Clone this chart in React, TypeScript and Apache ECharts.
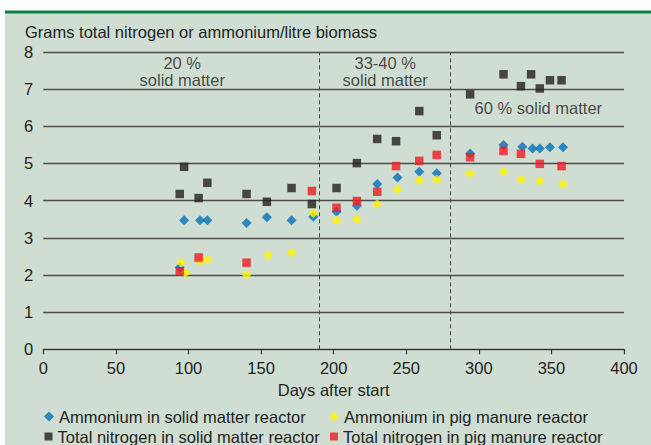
import React, { useEffect, useRef } from "react";
import * as echarts from "echarts";

const yTitle = "Grams total nitrogen or ammonium/litre biomass";
const xTitle = "Days after start";
const seriesNames = [
  "Ammonium in solid matter reactor",
  "Ammonium in pig manure reactor",
  "Total nitrogen in solid matter reactor",
  "Total nitrogen in pig manure reactor",
];

const ammSolidDays = [94, 97, 108, 113, 140, 154, 171, 186, 202, 216, 230, 244, 259, 271, 294, 317, 330, 337, 342, 349, 358];
const ammSolidVals = [2.2, 3.47, 3.47, 3.47, 3.4, 3.55, 3.47, 3.57, 3.7, 3.86, 4.45, 4.62, 4.78, 4.74, 5.27, 5.5, 5.45, 5.4, 5.4, 5.44, 5.44];

const ammPigDays = [95, 98, 108, 113, 140, 155, 171, 186, 202, 216, 230, 244, 259, 271, 294, 317, 329, 342, 358];
const ammPigVals = [2.33, 2.06, 2.37, 2.41, 2.01, 2.53, 2.6, 3.67, 3.47, 3.5, 3.9, 4.3, 4.54, 4.57, 4.73, 4.77, 4.57, 4.53, 4.45];

const totSolidDays = [94, 97, 107, 113, 140, 154, 171, 185, 202, 216, 230, 243, 259, 271, 294, 317, 329, 336, 342, 349, 357];
const totSolidVals = [4.18, 4.91, 4.07, 4.48, 4.18, 3.97, 4.34, 3.91, 4.34, 5.01, 5.66, 5.6, 6.41, 5.76, 6.86, 7.4, 7.08, 7.4, 7.02, 7.24, 7.24];

const totPigDays = [94, 107, 140, 185, 202, 216, 230, 243, 259, 271, 294, 317, 329, 342, 357];
const totPigVals = [2.1, 2.47, 2.33, 4.26, 3.81, 3.99, 4.24, 4.93, 5.07, 5.23, 5.17, 5.34, 5.26, 4.99, 4.93];

const phaseBoundaries = [190, 280];
const phaseLabels = ["20 %\nsolid matter", "33-40 %\nsolid matter", "60 % solid matter"];
const phaseLabelPos = [
  [95.7, 7.47],
  [235.5, 7.47],
  [341, 6.5],
];

const FONT = "'Liberation Sans', Arial, Helvetica, sans-serif";
const FS = 16.5;
const TXT = "#231f20";
const colors = ["#0072bc", "#fff200", "#231f20", "#ed1c24"];

const zip = (d: number[], v: number[]) => d.map((x, i) => [x, v[i]]);

export default function App() {
  const ref = useRef<HTMLDivElement>(null);
  useEffect(() => {
    document.body.style.margin = "0";
    const chart = echarts.init(ref.current!, null, { renderer: "svg" });
    const legendItem = (name: string, icon: string, left: number, top: number, size: number) => ({
      data: [{ name, icon }],
      left,
      top,
      itemWidth: size,
      itemHeight: size,
      padding: 0,
      selectedMode: false,
      textStyle: { fontFamily: FONT, fontSize: FS, color: TXT, lineHeight: 16, padding: [0, 0, 0, 0] },
    });
    chart.setOption({
      animation: false,
      backgroundColor: "#ffffff",
      textStyle: { fontFamily: FONT },
      graphic: [
        { type: "rect", z: -100, shape: { x: 5, y: 12, width: 646, height: 433 }, style: { fill: "#cfddd3" } },
        { type: "rect", z: -99, shape: { x: 5, y: 10.5, width: 646, height: 3 }, style: { fill: "#0b8040" } },
      ],
      title: {
        text: yTitle,
        left: 25,
        top: 24,
        padding: 0,
        textStyle: { fontFamily: FONT, fontSize: FS, fontWeight: "normal", color: TXT, lineHeight: 16 },
      },
      grid: { left: 43.3, right: 27, top: 52, bottom: 95.7 },
      xAxis: {
        type: "value",
        min: 0,
        max: 400,
        interval: 50,
        name: xTitle,
        nameLocation: "middle",
        nameGap: 32,
        nameTextStyle: { fontFamily: FONT, fontSize: FS, color: TXT, lineHeight: 16 },
        axisLine: { show: true, lineStyle: { color: "#333", width: 1.2 } },
        axisTick: { show: true, inside: false, length: 5, lineStyle: { color: "#333", width: 1.2 } },
        axisLabel: { fontFamily: FONT, fontSize: FS, color: TXT, margin: 10 },
        splitLine: { show: false },
      },
      yAxis: {
        type: "value",
        min: 0,
        max: 8,
        interval: 1,
        axisLine: { show: false },
        axisTick: { show: false },
        axisLabel: { fontFamily: FONT, fontSize: FS, color: TXT, margin: 10 },
        splitLine: { show: true, lineStyle: { color: "#4d4d4d", width: 1.4 } },
      },
      legend: [
        legendItem(seriesNames[0], "diamond", 44, 408, 10),
        legendItem(seriesNames[1], "diamond", 329, 408, 10),
        legendItem(seriesNames[2], "rect", 44.5, 428, 8),
        legendItem(seriesNames[3], "rect", 330, 428, 8),
      ],
      series: [
        {
          name: "phases",
          type: "scatter",
          symbolSize: 0,
          silent: true,
          data: phaseLabels.map((t, i) => ({ name: t, value: phaseLabelPos[i] })),
          label: {
            show: true,
            position: "inside",
            formatter: "{b}",
            fontFamily: FONT,
            fontSize: FS,
            lineHeight: 17,
            color: TXT,
            align: "center",
          },
          markLine: {
            silent: true,
            symbol: "none",
            label: { show: false },
            lineStyle: { type: [4, 3], color: "#444", width: 1 },
            data: phaseBoundaries.map((x) => ({ xAxis: x })),
          },
        },
        {
          name: seriesNames[0],
          type: "scatter",
          symbol: "diamond",
          symbolSize: 10,
          itemStyle: { color: colors[0] },
          data: zip(ammSolidDays, ammSolidVals),
        },
        {
          name: seriesNames[1],
          type: "scatter",
          symbol: "diamond",
          symbolSize: 10,
          itemStyle: { color: colors[1] },
          data: zip(ammPigDays, ammPigVals),
        },
        {
          name: seriesNames[2],
          type: "scatter",
          symbol: "rect",
          symbolSize: 8.5,
          itemStyle: { color: colors[2] },
          data: zip(totSolidDays, totSolidVals),
        },
        {
          name: seriesNames[3],
          type: "scatter",
          symbol: "rect",
          symbolSize: 8.5,
          itemStyle: { color: colors[3] },
          data: zip(totPigDays, totPigVals),
        },
      ],
    });
    return () => chart.dispose();
  }, []);
  return <div ref={ref} style={{ width: 651, height: 445 }} />;
}
